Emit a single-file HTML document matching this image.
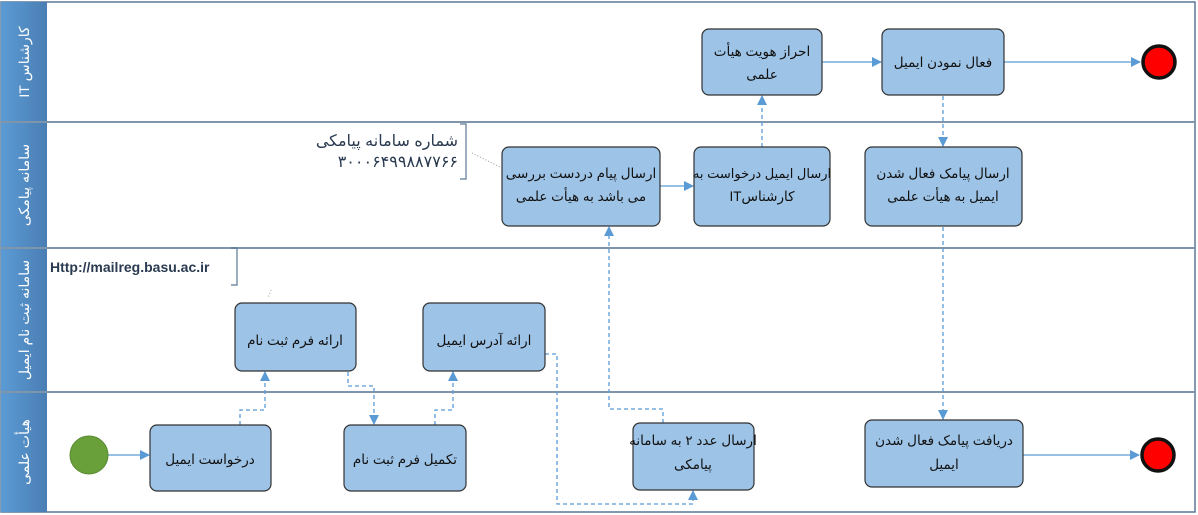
<!DOCTYPE html>
<html><head><meta charset="utf-8"><style>
html,body{margin:0;padding:0;background:#fff;}
svg{display:block;}
text{font-family:"Liberation Sans","DejaVu Sans",sans-serif;}
.t{font-size:13.5px;fill:#111;text-anchor:middle;direction:rtl;unicode-bidi:embed;}
.h{font-size:14px;fill:#fff;text-anchor:middle;direction:rtl;unicode-bidi:embed;}
</style></head><body>
<svg width="1198" height="515" viewBox="0 0 1198 515" xmlns="http://www.w3.org/2000/svg">
<defs>
<linearGradient id="hg" x1="0" x2="1" y1="0" y2="0">
<stop offset="0" stop-color="#5b9bd5"/><stop offset="1" stop-color="#4a7eb3"/>
</linearGradient>
<marker id="a" markerWidth="10" markerHeight="10" refX="9" refY="5" orient="auto" markerUnits="userSpaceOnUse">
<path d="M0,0 L10,5 L0,10 z" fill="#5b9bd5"/></marker>
</defs>
<rect x="1" y="2" width="1194" height="510" fill="#fff" stroke="#5a7896" stroke-width="1.5"/>
<rect x="1" y="2" width="46" height="510" fill="url(#hg)"/>
<g stroke="#7f95ab" stroke-width="2">
<line x1="1" y1="122" x2="1195" y2="122"/>
<line x1="1" y1="248" x2="1195" y2="248"/>
<line x1="1" y1="392" x2="1195" y2="392"/>
</g>
<text class="h" direction="rtl" transform="translate(29,62) rotate(-90)">کارشناس IT</text>
<text class="h" direction="rtl" transform="translate(29,185) rotate(-90)">سامانه پیامکی</text>
<text class="h" direction="rtl" transform="translate(29,320) rotate(-90)">سامانه ثبت نام ایمیل</text>
<text class="h" direction="rtl" transform="translate(29,452) rotate(-90)">هیأت علمی</text>
<path d="M460,124 H466 V179 H460" fill="none" stroke="#5a7896" stroke-width="1.2"/>
<text x="458" y="146" font-size="16" fill="#2a3a50" text-anchor="start" direction="rtl">شماره سامانه پیامکی</text>
<text x="458" y="167" font-size="16" fill="#2a3a50" text-anchor="start" direction="rtl">۳۰۰۰۶۴۹۹۸۸۷۷۶۶</text>
<line x1="472" y1="153" x2="502" y2="168" stroke="#999" stroke-dasharray="1,2"/>
<path d="M231,248 H237 V285 H231" fill="none" stroke="#5a7896" stroke-width="1.2"/>
<text x="50" y="272" font-size="14" font-weight="bold" fill="#2a3a50">Http://mailreg.basu.ac.ir</text>
<line x1="271" y1="290" x2="268" y2="298" stroke="#999" stroke-dasharray="1,2"/>
<g stroke="#5b9bd5" stroke-width="1.3" fill="none">
<line x1="108" y1="455" x2="149" y2="455" marker-end="url(#a)"/>
<line x1="660" y1="186" x2="693" y2="186" marker-end="url(#a)"/>
<line x1="822" y1="62" x2="881" y2="62" marker-end="url(#a)"/>
<line x1="1004" y1="62" x2="1140" y2="62" marker-end="url(#a)"/>
<line x1="1023" y1="455" x2="1139" y2="455" marker-end="url(#a)"/>
</g>
<g stroke="#5b9bd5" stroke-width="1.3" fill="none" stroke-dasharray="4,3">
<path d="M240,425 V410 H265 V372" marker-end="url(#a)"/>
<path d="M348,372 V386 H374 V424" marker-end="url(#a)"/>
<path d="M435,425 V410 H453 V372" marker-end="url(#a)"/>
<path d="M545,354 H557 V504 H693 V491" marker-end="url(#a)"/>
<path d="M663,423 V409 H609 V227" marker-end="url(#a)"/>
<path d="M762,147 V96" marker-end="url(#a)"/>
<path d="M943,96 V146" marker-end="url(#a)"/>
<path d="M943,227 V419" marker-end="url(#a)"/>
</g>
<g fill="#9dc3e6" stroke="#333" stroke-width="1.2">
<rect x="702" y="29" width="120" height="66" rx="7"/>
<rect x="882" y="29" width="122" height="66" rx="7"/>
<rect x="502" y="147" width="158" height="79" rx="7"/>
<rect x="694" y="147" width="136" height="79" rx="7"/>
<rect x="865" y="147" width="157" height="79" rx="7"/>
<rect x="235" y="303" width="121" height="68" rx="7"/>
<rect x="423" y="303" width="122" height="68" rx="7"/>
<rect x="150" y="425" width="121" height="66" rx="7"/>
<rect x="344" y="425" width="122" height="66" rx="7"/>
<rect x="633" y="423" width="121" height="67" rx="7"/>
<rect x="865" y="420" width="158" height="67" rx="7"/>
</g>
<g direction="rtl">
<text class="t" x="762" y="56">احراز هویت هیأت</text>
<text class="t" x="762" y="79">علمی</text>
<text class="t" x="943" y="67">فعال نمودن ایمیل</text>
<text class="t" x="581" y="178">ارسال پیام دردست بررسی</text>
<text class="t" x="581" y="201">می باشد به هیأت علمی</text>
<text class="t" x="762" y="178" style="font-size:13px">ارسال ایمیل درخواست به</text>
<text class="t" x="762" y="201">کارشناسIT</text>
<text class="t" x="943" y="178">ارسال پیامک فعال شدن</text>
<text class="t" x="943" y="201">ایمیل به هیأت علمی</text>
<text class="t" x="295" y="345">ارائه فرم ثبت نام</text>
<text class="t" x="484" y="345">ارائه آدرس ایمیل</text>
<text class="t" x="210" y="464">درخواست ایمیل</text>
<text class="t" x="405" y="464">تکمیل فرم ثبت نام</text>
<text class="t" x="693" y="445">ارسال عدد ۲ به سامانه</text>
<text class="t" x="693" y="469">پیامکی</text>
<text class="t" x="944" y="445">دریافت پیامک فعال شدن</text>
<text class="t" x="944" y="469">ایمیل</text>
</g>
<circle cx="89" cy="455" r="19" fill="#6aa03a" stroke="#5a8a30" stroke-width="1"/>
<circle cx="1159" cy="62" r="16" fill="#ff0000" stroke="#111" stroke-width="3.5"/>
<circle cx="1158" cy="455" r="16" fill="#ff0000" stroke="#111" stroke-width="3.5"/>
</svg>
</body></html>
